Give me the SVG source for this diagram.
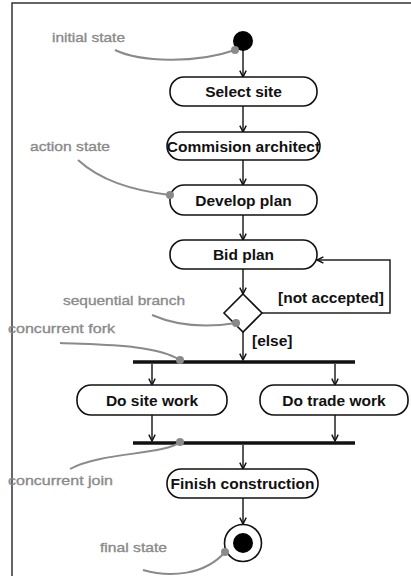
<svg xmlns="http://www.w3.org/2000/svg" width="411" height="576" viewBox="0 0 411 576">
  <style>
    .frame { stroke: #333; stroke-width: 1.5; fill: none; }
    .act rect { fill: #fff; stroke: #111; stroke-width: 1.6; }
    .act text, .guard { font-family: "Liberation Sans", Arial, sans-serif; font-weight: bold; font-size: 15.5px; fill: #111; text-anchor: middle; dominant-baseline: central; }
    .guard { text-anchor: start; }
    .flow { stroke: #222; stroke-width: 1.5; fill: none; marker-end: url(#arrow); }
    .bar { stroke: #111; stroke-width: 3.5; }
    .note text { font-family: "Liberation Sans", Arial, sans-serif; font-size: 13.5px; fill: #8a8a8a; stroke: #8a8a8a; stroke-width: 0.35; dominant-baseline: central; }
    .note path { stroke: #8a8a8a; stroke-width: 2; fill: none; }
    .note circle { fill: #8a8a8a; }
  </style>
  <defs>
    <marker id="arrow" viewBox="0 0 10 10" refX="9" refY="5" markerWidth="8" markerHeight="8" markerUnits="userSpaceOnUse" orient="auto">
      <path d="M1,1 L9,5 L1,9" fill="none" stroke="#111" stroke-width="1.8"/>
    </marker>
  </defs>

  <!-- outer frame -->
  <path class="frame" d="M12,576 V3 H411"/>

  <!-- connectors -->
  <g id="connectors">
    <line class="flow" x1="243" y1="50" x2="243" y2="77"/>
    <line class="flow" x1="243" y1="106" x2="243" y2="132"/>
    <line class="flow" x1="243" y1="160" x2="243" y2="185"/>
    <line class="flow" x1="243" y1="215" x2="243" y2="240"/>
    <line class="flow" x1="243" y1="269" x2="243" y2="294"/>
    <line class="flow" x1="243" y1="332" x2="243" y2="360"/>
    <polyline class="flow" points="262,313 390,313 390,260 317,260"/>
    <line class="flow" x1="152" y1="364" x2="152" y2="385"/>
    <line class="flow" x1="335" y1="364" x2="335" y2="385"/>
    <line class="flow" x1="152" y1="415" x2="152" y2="441"/>
    <line class="flow" x1="335" y1="415" x2="335" y2="441"/>
    <line class="flow" x1="243" y1="445" x2="243" y2="469"/>
    <line class="flow" x1="243" y1="498" x2="243" y2="524"/>
    <text class="guard" x="278" y="297">[not accepted]</text>
    <text class="guard" x="252" y="340">[else]</text>
  </g>

  <!-- nodes -->
  <g id="initial"><circle cx="243" cy="41" r="10" fill="#000"/></g>
  <g id="select-site" class="act"><rect x="170" y="77" width="147" height="29" rx="14"/><text x="243.5" y="91.5">Select site</text></g>
  <g id="commission-architect" class="act"><rect x="167" y="132" width="153" height="28" rx="14"/><text x="243.5" y="146">Commision architect</text></g>
  <g id="develop-plan" class="act"><rect x="170" y="185" width="147" height="30" rx="14"/><text x="243.5" y="200">Develop plan</text></g>
  <g id="bid-plan" class="act"><rect x="170" y="240" width="147" height="29" rx="14"/><text x="243.5" y="254.5">Bid plan</text></g>
  <g id="branch"><path d="M243,294 L262,313 L243,332 L224,313 Z" fill="#fff" stroke="#111" stroke-width="1.6"/></g>
  <g id="fork"><line class="bar" x1="133" y1="362" x2="355" y2="362"/></g>
  <g id="site-work" class="act"><rect x="77" y="385" width="150" height="30" rx="14"/><text x="152" y="400">Do site work</text></g>
  <g id="trade-work" class="act"><rect x="260" y="385" width="148" height="30" rx="14"/><text x="334" y="400">Do trade work</text></g>
  <g id="join"><line class="bar" x1="133" y1="443" x2="355" y2="443"/></g>
  <g id="finish-construction" class="act"><rect x="167" y="469" width="151" height="29" rx="14"/><text x="242.5" y="483.5">Finish construction</text></g>
  <g id="final"><circle cx="243" cy="543" r="18.5" fill="#fff" stroke="#111" stroke-width="1.6"/><circle cx="243" cy="543" r="10" fill="#000"/></g>

  <!-- annotations -->
  <g id="notes" class="note">
    <text x="52" y="37" textLength="73" lengthAdjust="spacingAndGlyphs">initial state</text>
    <path d="M115,50 C140,62 195,64 235,50"/>
    <circle cx="235" cy="50" r="4"/>

    <text x="30" y="146" textLength="80" lengthAdjust="spacingAndGlyphs">action state</text>
    <path d="M78,160 C100,180 130,190 170,195"/>
    <circle cx="170" cy="195" r="4"/>

    <text x="63" y="300" textLength="122" lengthAdjust="spacingAndGlyphs">sequential branch</text>
    <path d="M152,315 C175,325 205,328 236,323"/>
    <circle cx="236" cy="323" r="4"/>

    <text x="8" y="328" textLength="107" lengthAdjust="spacingAndGlyphs">concurrent fork</text>
    <path d="M60,343 C100,345 155,344 180,360"/>
    <circle cx="180" cy="360" r="4"/>

    <text x="8" y="480" textLength="105" lengthAdjust="spacingAndGlyphs">concurrent join</text>
    <path d="M180,442 C165,455 100,452 70,469"/>
    <circle cx="180" cy="442" r="4"/>

    <text x="100" y="547" textLength="67" lengthAdjust="spacingAndGlyphs">final state</text>
    <path d="M143,570 C170,578 205,575 225,552"/>
    <circle cx="225" cy="552" r="4"/>
  </g>
</svg>
